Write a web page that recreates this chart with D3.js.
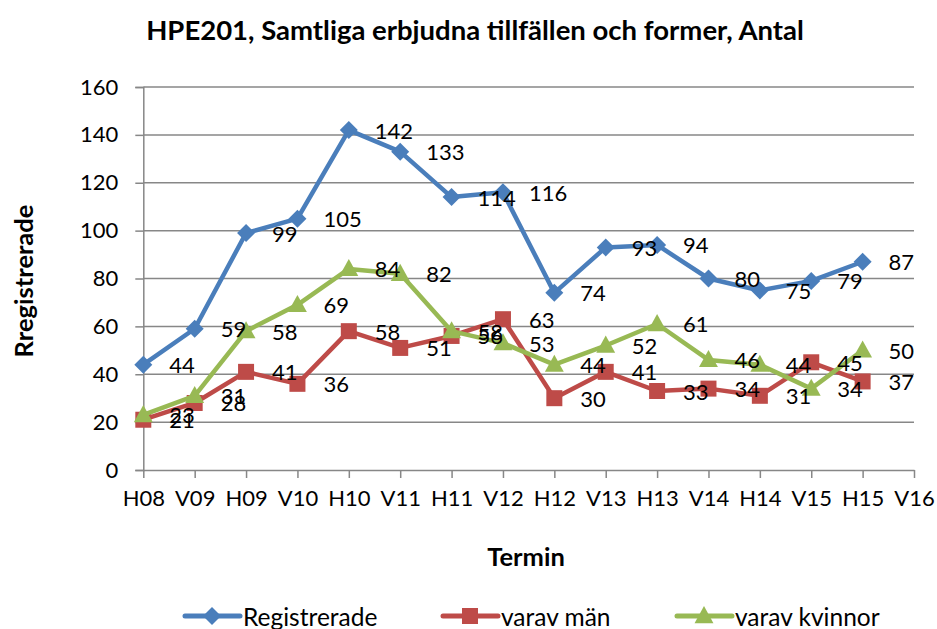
<!DOCTYPE html>
<html>
<head>
<meta charset="utf-8">
<script src="https://cdn.jsdelivr.net/npm/d3@7"></script>
<style>
  body { margin: 0; background: #fff; }
  svg { display: block; font-family: Lato, "Open Sans", sans-serif; }
</style>
</head>
<body>
<div id="chart"></div>
<script>
// terms on the x axis (V16 has no values)
const terms = ["H08", "V09", "H09", "V10", "H10", "V11", "H11", "V12", "H12", "V13", "H13", "V14", "H14", "V15", "H15", "V16"];
const registrerade = [44, 59, 99, 105, 142, 133, 114, 116, 74, 93, 94, 80, 75, 79, 87];
const varavMan = [21, 28, 41, 36, 58, 51, 56, 63, 30, 41, 33, 34, 31, 45, 37];
const varavKvinnor = [23, 31, 58, 69, 84, 82, 58, 53, 44, 52, 61, 46, 44, 34, 50];
const yTicks = [0, 20, 40, 60, 80, 100, 120, 140, 160];

const width = 937;
const height = 629;

const series = [
  { name: "Registrerade", values: registrerade, color: "#4a7ebb", marker: "diamond" },
  { name: "varav män", values: varavMan, color: "#be4b48", marker: "square" },
  { name: "varav kvinnor", values: varavKvinnor, color: "#98b954", marker: "triangle" }
];

const svg = d3.select("#chart").append("svg")
  .attr("width", width)
  .attr("height", height);

const x = d3.scalePoint().domain(terms).range([143.3, 914]);
const y = d3.scaleLinear().domain([0, 160]).range([470, 87]);

const gridColor = "#878787";

// gridlines
svg.append("g")
  .selectAll("line")
  .data(yTicks.filter(d => d > 0))
  .enter()
  .append("line")
  .attr("x1", x.range()[0])
  .attr("x2", x.range()[1])
  .attr("y1", d => y(d))
  .attr("y2", d => y(d))
  .attr("stroke", gridColor)
  .attr("stroke-width", 1.5);

// y axis
const yAxis = svg.append("g")
  .attr("transform", `translate(${x.range()[0]},0)`)
  .call(d3.axisLeft(y).tickValues(yTicks).tickSize(8).tickPadding(17));
yAxis.select(".domain").attr("stroke", gridColor).attr("stroke-width", 1.5);
yAxis.selectAll(".tick line").attr("stroke", gridColor).attr("stroke-width", 1.5);
yAxis.selectAll(".tick text")
  .attr("fill", "#000")
  .style("font-size", "22px")
  .style("font-family", "Lato");

// x axis
const xAxis = svg.append("g")
  .attr("transform", `translate(0,${y(0)})`)
  .call(d3.axisBottom(x).tickSizeInner(8).tickSizeOuter(0).tickPadding(12));
xAxis.select(".domain").attr("stroke", gridColor).attr("stroke-width", 1.5);
xAxis.selectAll(".tick line").attr("stroke", gridColor).attr("stroke-width", 1.5);
xAxis.selectAll(".tick text")
  .attr("fill", "#000")
  .style("font-size", "22px")
  .style("font-family", "Lato");

// marker shapes
const markerPath = (type, s) => {
  if (type === "diamond") return `M0,${-s}L${s},0L0,${s}L${-s},0Z`;
  if (type === "square") return `M${-s},${-s}H${s}V${s}H${-s}Z`;
  return `M0,${-s * 1.1}L${s * 1.05},${s * 0.8}L${-s * 1.05},${s * 0.8}Z`;
};
const markerSize = { diamond: 9, square: 8, triangle: 9 };

const line = d3.line()
  .x((d, i) => x(terms[i]))
  .y(d => y(d));

series.forEach(s => {
  const g = svg.append("g");
  g.append("path")
    .datum(s.values)
    .attr("fill", "none")
    .attr("stroke", s.color)
    .attr("stroke-width", 4.5)
    .attr("stroke-linejoin", "round")
    .attr("d", line);
  g.selectAll("path.mk")
    .data(s.values)
    .enter()
    .append("path")
    .attr("class", "mk")
    .attr("transform", (d, i) => `translate(${x(terms[i])},${y(d)})`)
    .attr("d", markerPath(s.marker, markerSize[s.marker]))
    .attr("fill", s.color);
});

// data labels (drawn on top, right of each point like the original)
series.forEach(s => {
  svg.append("g")
    .selectAll("text")
    .data(s.values)
    .enter()
    .append("text")
    .attr("x", (d, i) => x(terms[i]) + 26)
    .attr("y", d => y(d))
    .attr("dominant-baseline", "central")
    .style("font-size", "22px")
    .style("font-family", "Lato")
    .attr("fill", "#000")
    .text(d => d);
});

// title
svg.append("text")
  .attr("x", 475)
  .attr("y", 29)
  .attr("text-anchor", "middle")
  .attr("dominant-baseline", "central")
  .style("font-size", "27.5px")
  .style("font-weight", "bold")
  .style("font-family", "Lato")
  .text("HPE201, Samtliga erbjudna tillfällen och former, Antal");

// axis titles
svg.append("text")
  .attr("transform", "translate(23,281) rotate(-90)")
  .attr("text-anchor", "middle")
  .attr("dominant-baseline", "central")
  .style("font-size", "25.5px")
  .style("font-weight", "bold")
  .style("font-family", "Lato")
  .text("Rregistrerade");

svg.append("text")
  .attr("x", 526)
  .attr("y", 556)
  .attr("text-anchor", "middle")
  .attr("dominant-baseline", "central")
  .style("font-size", "25.5px")
  .style("font-weight", "bold")
  .style("font-family", "Lato")
  .text("Termin");

// legend
const legendX = [185, 443, 677];
const legend = svg.append("g");
series.forEach((s, i) => {
  const g = legend.append("g").attr("transform", `translate(${legendX[i]},616)`);
  g.append("line")
    .attr("x1", 0).attr("x2", 55)
    .attr("stroke", s.color)
    .attr("stroke-width", 5)
    .attr("stroke-linecap", "round");
  g.append("path")
    .attr("transform", "translate(27,0)")
    .attr("d", markerPath(s.marker, markerSize[s.marker]))
    .attr("fill", s.color);
  g.append("text")
    .attr("x", 58)
    .attr("y", 0)
    .attr("dominant-baseline", "central")
    .style("font-size", "24.5px")
    .style("font-family", "Lato")
    .text(s.name);
});
</script>
</body>
</html>
